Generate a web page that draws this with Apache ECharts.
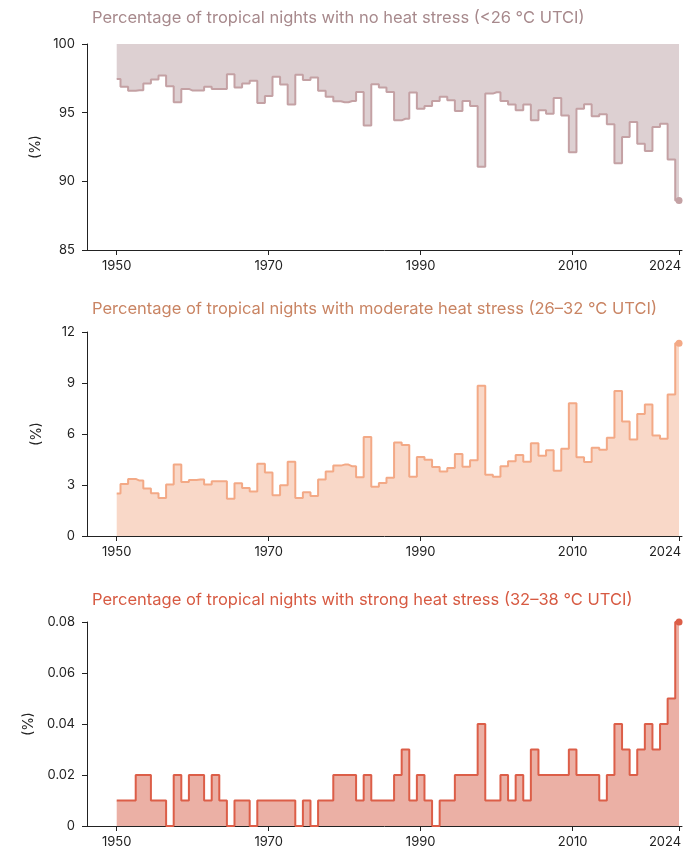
<!DOCTYPE html>
<html>
<head>
<meta charset="utf-8">
<script src="https://cdn.jsdelivr.net/npm/echarts@6/dist/echarts.min.js"></script>
<style>
  html, body { margin: 0; padding: 0; background: #fff; }
  #chart { width: 686px; height: 856px; }
</style>
</head>
<body>
<div id="chart"></div>
<script>
// years 1950..2024, one value per year
const years = Array.from({ length: 75 }, (_, i) => 1950 + i);
const xTickYears = [1950, 1970, 1990, 2010, 2024];

// % of tropical nights with no heat stress (<26 °C UTCI)
const noStress = [
  97.46, 96.88, 96.59, 96.64, 97.12, 97.41, 97.7, 96.93, 95.76, 96.73,
  96.61, 96.61, 96.88, 96.73, 96.73, 97.8, 96.83, 97.12, 97.32, 95.71,
  96.22, 97.61, 97.05, 95.59, 97.76, 97.37, 97.56, 96.59, 96.15, 95.83,
  95.76, 95.85, 96.51, 94.07, 97.07, 96.83, 96.51, 94.44, 94.56, 96.46,
  95.29, 95.49, 95.85, 96.15, 95.9, 95.12, 95.85, 95.49, 91.07, 96.39,
  96.49, 95.85, 95.59, 95.17, 95.59, 94.44, 95.17, 94.93, 96.07, 94.8,
  92.12, 95.29, 95.61, 94.73, 94.88, 94.15, 91.32, 93.22, 94.32, 92.73,
  92.2, 93.95, 94.2, 91.59, 88.6
];

// % with moderate heat stress (26–32 °C UTCI)
const moderateStress = [
  2.5, 3.06, 3.36, 3.26, 2.79, 2.52, 2.24, 3.03, 4.2, 3.18,
  3.3, 3.32, 3.03, 3.22, 3.22, 2.19, 3.1, 2.83, 2.62, 4.25,
  3.73, 2.4, 2.99, 4.37, 2.24, 2.58, 2.36, 3.32, 3.79, 4.14,
  4.2, 4.1, 3.45, 5.82, 2.89, 3.12, 3.42, 5.5, 5.35, 3.49,
  4.64, 4.49, 4.06, 3.79, 4.0, 4.82, 4.08, 4.45, 8.84, 3.61,
  3.49, 4.1, 4.39, 4.76, 4.37, 5.46, 4.72, 5.04, 3.84, 5.13,
  7.81, 4.63, 4.35, 5.19, 5.07, 5.78, 8.53, 6.73, 5.68, 7.18,
  7.73, 5.91, 5.72, 8.33, 11.34
];

// % with strong heat stress (32–38 °C UTCI)
const strongStress = [
  0.01, 0.01, 0.01, 0.02, 0.02, 0.01, 0.01, 0, 0.02, 0.01,
  0.02, 0.02, 0.01, 0.02, 0.01, 0, 0.01, 0.01, 0, 0.01,
  0.01, 0.01, 0.01, 0.01, 0, 0.01, 0, 0.01, 0.01, 0.02,
  0.02, 0.02, 0.01, 0.02, 0.01, 0.01, 0.01, 0.02, 0.03, 0.01,
  0.02, 0.01, 0, 0.01, 0.01, 0.02, 0.02, 0.02, 0.04, 0.01,
  0.01, 0.02, 0.01, 0.02, 0.01, 0.03, 0.02, 0.02, 0.02, 0.02,
  0.03, 0.02, 0.02, 0.02, 0.01, 0.02, 0.04, 0.03, 0.02, 0.03,
  0.04, 0.03, 0.04, 0.05, 0.08
];

const titles = [
  "Percentage of tropical nights with no heat stress (<26 °C UTCI)",
  "Percentage of tropical nights with moderate heat stress (26–32 °C UTCI)",
  "Percentage of tropical nights with strong heat stress (32–38 °C UTCI)"
];

const FONT = "Inter";
const panels = [
  { data: noStress, line: "#c4a1a4", fill: "#ddd0d2", title: "#a7898c", top: 44, height: 206, min: 85, max: 100, interval: 5, origin: "end", titleTop: 10 },
  { data: moderateStress, line: "#f3a986", fill: "#f9d8c8", title: "#c98463", top: 332, height: 204, min: 0, max: 12, interval: 3, origin: "start", titleTop: 301 },
  { data: strongStress, line: "#dc5e48", fill: "#ebb0a5", title: "#d75a42", top: 622, height: 204, min: 0, max: 0.08, interval: 0.02, origin: "start", titleTop: 592 }
];

var chart = echarts.init(document.getElementById("chart"), null, { renderer: "canvas" });

const option = {
  animation: false,
  backgroundColor: "#fff",
  title: panels.map((p, i) => ({
    text: titles[i],
    left: 92,
    top: p.titleTop,
    padding: 0,
    textStyle: { fontFamily: FONT, fontSize: 16.5, fontWeight: "normal", color: p.title }
  })),
  grid: panels.map((p) => ({
    left: 87,
    right: 4,
    top: p.top,
    height: p.height,
    containLabel: false,
    outerBoundsMode: "none"
  })),
  xAxis: panels.map((p, i) => ({
    type: "value",
    gridIndex: i,
    min: 1946.09,
    max: 2024.39,
    splitLine: { show: false },
    axisLine: { show: true, onZero: false, lineStyle: { color: "#222", width: 1 } },
    axisTick: { show: true, customValues: xTickYears, length: 5, lineStyle: { color: "#222" } },
    axisLabel: {
      customValues: xTickYears,
      margin: 10,
      fontFamily: FONT,
      fontSize: 13,
      color: "#222",
      formatter: (v) => (v === 2024 ? "{last|" + v + "}" : String(v)),
      rich: { last: { padding: [0, 28, 0, 0], fontFamily: FONT, fontSize: 13, color: "#222" } }
    }
  })),
  yAxis: panels.map((p, i) => ({
    type: "value",
    gridIndex: i,
    min: p.min,
    max: p.max,
    interval: p.interval,
    name: "(%)",
    nameLocation: "middle",
    nameGap: 43,
    nameRotate: 90,
    nameTextStyle: { fontFamily: FONT, fontSize: 14, color: "#222" },
    splitLine: { show: false },
    axisLine: { show: true, lineStyle: { color: "#222", width: 1 } },
    axisTick: { show: true, length: 5, lineStyle: { color: "#222" } },
    axisLabel: {
      margin: 12,
      fontFamily: FONT,
      fontSize: 13,
      color: "#222",
      formatter: (v) => String(+v.toFixed(2))
    }
  })),
  series: []
};

panels.forEach((p, i) => {
  option.series.push({
    type: "line",
    xAxisIndex: i,
    yAxisIndex: i,
    step: "middle",
    data: years.map((y, j) => [y, p.data[j]]),
    showSymbol: false,
    lineStyle: { color: p.line, width: 2 },
    areaStyle: { color: p.fill, opacity: 1, origin: p.origin },
    z: 2
  });
  const last = years.length - 1;
  option.series.push({
    type: "scatter",
    xAxisIndex: i,
    yAxisIndex: i,
    data: [[years[last], p.data[last]]],
    symbol: "circle",
    symbolSize: 7,
    itemStyle: { color: p.line, opacity: 1 },
    z: 3
  });
});

chart.setOption(option);
window.addEventListener("resize", chart.resize);
</script>
</body>
</html>
